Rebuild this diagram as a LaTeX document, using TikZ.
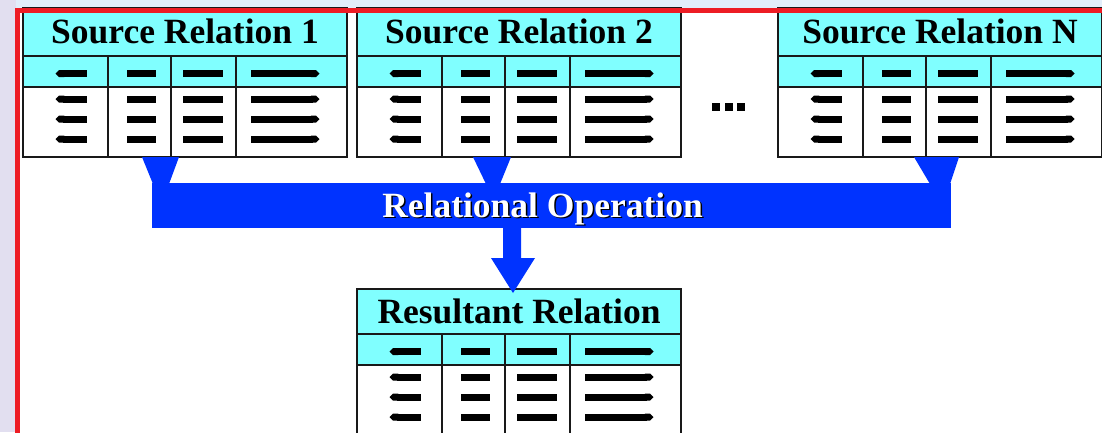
\documentclass[tikz,border=0pt]{standalone}
\usepackage{fontspec}
\setmainfont{Liberation Serif}
\usetikzlibrary{arrows.meta}

\definecolor{relcyan}{RGB}{128,255,255}
\definecolor{opblue}{RGB}{0,51,255}
\definecolor{framered}{RGB}{237,28,36}
\definecolor{sidegray}{RGB}{226,223,240}
\definecolor{topblue}{RGB}{226,238,250}

\tikzset{
  cellline/.style={draw=black!90,line width=2pt},
  fieldmark/.style={line width=7pt,black},
  reltitle/.style={font=\fontsize{35.5}{40}\selectfont\bfseries,inner sep=0pt,anchor=base},
  optext/.style={font=\fontsize{35.5}{40}\selectfont\bfseries,inner sep=0pt,anchor=base}
}

% #1 left x, #2 top y, #3 bottom of title row, #4 name, #5 title
\newcommand{\reltable}[5]{%
  \begin{scope}[shift={(#1,#3)}]
    \fill[relcyan] (0,#2-#3) rectangle (324,31);
    \fill[white] (0,31) rectangle (324,101);
    \node[reltitle] (#4) at (162,{(#2-#3)/2+11.5}) {#5};
    \draw[cellline] (0,#2-#3) rectangle (324,101);
    \draw[cellline] (0,0) -- (324,0) (0,31) -- (324,31);
    \foreach \cx in {85,148,213} \draw[cellline] (\cx,0) -- (\cx,101);
    \foreach \cy in {17.5,43,63,83} {
      \draw[fieldmark,{Triangle Cap[]}-] (32.5,\cy) -- (64,\cy);
      \draw[fieldmark] (104,\cy) -- (133,\cy);
      \draw[fieldmark] (160,\cy) -- (200,\cy);
      \draw[fieldmark,-{Triangle Cap[]}] (228,\cy) -- (296.5,\cy);
    }
  \end{scope}}

\begin{document}
\begin{tikzpicture}[line cap=butt,line join=miter,x=1pt,y=-1pt]
  \useasboundingbox (0,0) rectangle (1102,432);
  \clip (0,0) rectangle (1102,432);
  % surroundings
  \fill[sidegray] (0,0) rectangle (16,432);
  \fill[topblue] (16,0) rectangle (1102,9);
  \fill[white] (16,9) rectangle (1102,432);

  % relations
  \reltable{23}{8}{56}{src1}{Source Relation 1}
  \reltable{357}{8}{56}{src2}{Source Relation 2}
  \reltable{778}{8}{56}{srcn}{Source Relation N}
  \reltable{357}{289}{334}{res}{Resultant Relation}

  \foreach \dx in {716,729,741} \fill (\dx-4,103) rectangle (\dx+4,111);

  % frame
  \draw[framered,line width=5.5pt] (17.5,10.5) rectangle (1110,440);

  % operation bar and inputs
  \fill[opblue] (152,183) rectangle (951,228);
  \fill[opblue] (142,157) -- (179,157) -- (169,184) -- (153,184) -- cycle;
  \fill[opblue] (473,157) -- (511,157) -- (500,184) -- (486,184) -- cycle;
  \fill[opblue] (914,157) -- (959,157) -- (950,184) -- (930,184) -- cycle;
  \fill[opblue] (503,227) -- (521,227) -- (521,258) -- (535,258) -- (513,293)
    -- (491,258) -- (503,258) -- cycle;

  \node[optext,black] (opshadow) at (544,218.5) {Relational Operation};
  \node[optext,white] (op) at (542.5,217) {Relational Operation};
\end{tikzpicture}
\end{document}
